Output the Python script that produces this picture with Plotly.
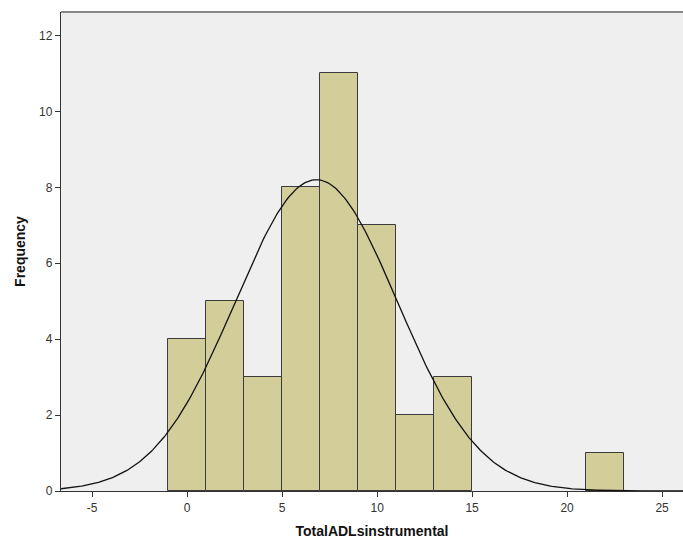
import numpy as np
import plotly.graph_objects as go

# Histogram data (bin centers, width 2)
bin_centers = [0, 2, 4, 6, 8, 10, 12, 14, 22]
frequencies = [4, 5, 3, 8, 11, 7, 2, 3, 1]
bin_width = 2
n_total = sum(frequencies)

# Fitted normal curve parameters
curve_mean = 6.8
curve_sd = 4.28

x_ticks = [-5, 0, 5, 10, 15, 20, 25]
y_ticks = [0, 2, 4, 6, 8, 10, 12]

x_range = [-6.64, 26.1]
y_range = [0, 12.62]

xs = np.linspace(x_range[0], x_range[1], 400)
ys = n_total * bin_width / (curve_sd * np.sqrt(2 * np.pi)) * np.exp(-0.5 * ((xs - curve_mean) / curve_sd) ** 2)

fig = go.Figure()
fig.add_trace(go.Bar(
    x=bin_centers, y=frequencies, width=bin_width,
    marker=dict(color="#d3ce99", line=dict(color="#3c3c3c", width=1)),
    hoverinfo="x+y",
))
fig.add_trace(go.Scatter(
    x=xs, y=ys, mode="lines",
    line=dict(color="#111111", width=1.3),
    hoverinfo="skip",
))

fig.update_layout(
    width=683, height=541,
    margin=dict(l=61, r=0, t=12, b=50),
    paper_bgcolor="white",
    plot_bgcolor="#efefef",
    showlegend=False,
    font=dict(family="Liberation Sans, Arial, sans-serif", size=12, color="#333333"),
    bargap=0,
)
fig.update_xaxes(
    range=x_range, tickvals=x_ticks, ticktext=[str(v) for v in x_ticks],
    showgrid=False, zeroline=False,
    showline=True, linecolor="#333333", linewidth=1.3,
    ticks="outside", ticklen=5, tickcolor="#333333",
    title=dict(text="<b>TotalADLsinstrumental</b>", font=dict(size=14, color="#111111"), standoff=12),
)
fig.update_yaxes(
    range=y_range, tickvals=y_ticks, ticktext=[str(v) for v in y_ticks],
    showgrid=False, zeroline=False,
    showline=True, linecolor="#333333", linewidth=1.3,
    ticks="outside", ticklen=5, tickcolor="#333333",
    title=dict(text="<b>Frequency</b>", font=dict(size=14, color="#111111"), standoff=10),
)
# top frame line
fig.add_shape(type="line", xref="paper", yref="paper", x0=0, x1=1, y0=1, y1=1,
              line=dict(color="#888888", width=2))

fig.write_html("out.html", config={"displayModeBar": False},
               post_script="document.body.style.margin='0';document.body.style.overflow='hidden';")
